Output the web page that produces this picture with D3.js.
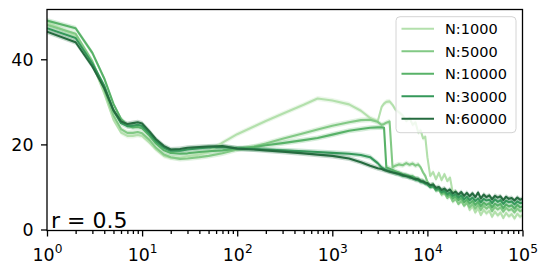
<!doctype html>
<html lang="en">
<head>
<meta charset="utf-8">
<title>r = 0.5</title>
<script src="https://d3js.org/d3.v7.min.js"></script>
<style>
  body { margin: 0; background: #fff; }
  svg { display: block; font-family: "DejaVu Sans", sans-serif; }
</style>
</head>
<body>
<div id="chart"></div>
<script>
// shared x grid (log spaced)
var xs = [1,2,3,4,5,6,7,8,9,10,12,14,17,20,25,30,40,50,70,100,150,200,300,500,700,
  1000,1500,2000,2500,3000,3300,3500,3700,4000,4300,4600,5000,5500,6000,6500,7000,7500,8000,8500,9000,9500,
  10000,10700,11500,12300,13200,14100,15100,16200,17300,18500,19800,21200,22700,24300,26000,27800,29800,
  31900,34100,36500,39100,41800,44800,47900,51300,54900,58700,62800,67200,71900,77000,82400,88200,94400,100000];

var labels = ["N:1000", "N:5000", "N:10000", "N:30000", "N:60000"];

var n1000 = [48.7,45.5,39.0,32.0,25.8,22.8,22.0,22.0,22.2,22.0,20.4,18.8,17.3,16.9,16.8,17.2,17.6,18.3,20.4,22.4,24.2,25.5,27.2,29.3,30.8,
  30.3,29.4,27.9,26.2,25.4,28.8,29.6,30.0,30.1,29.3,28.2,27.6,26.8,25.5,26.2,24.6,25.2,22.8,23.3,21.4,21.8,
  17.0,12.6,13.5,11.8,13.3,11.6,13.0,11.4,12.2,8.6,9.0,7.2,7.8,5.8,6.4,4.6,5.5,
  4.0,5.0,3.4,4.6,3.8,4.4,3.0,4.2,3.3,4.0,2.7,3.9,3.1,3.6,2.6,3.7,3.0,3.4];

var n5000 = [48.1,46.0,39.5,32.8,26.8,23.6,22.7,22.7,22.9,22.6,21.0,19.2,17.6,17.0,16.6,16.7,17.0,17.3,17.9,18.8,19.5,20.2,21.3,22.6,23.5,
  24.4,25.2,25.7,25.8,25.3,24.6,24.8,25.1,25.4,14.6,15.0,15.3,15.1,15.6,15.2,15.5,15.0,15.3,14.6,13.4,12.6,
  11.2,10.2,10.6,9.4,9.4,8.2,8.6,7.4,7.9,6.6,7.2,6.0,6.7,5.6,6.3,5.2,6.0,
  4.9,5.8,4.6,5.6,4.9,5.5,4.3,5.3,4.7,5.2,4.2,5.1,4.5,4.8,4.0,4.9,4.3,4.6];

var n10000 = [49.1,47.3,41.5,35.5,29.5,26.0,24.4,24.0,24.1,23.8,22.0,20.2,18.6,18.0,17.8,17.9,18.2,18.4,18.6,19.0,19.4,19.8,20.3,21.0,21.5,
  22.3,23.2,23.6,23.9,24.0,24.0,23.9,14.6,14.3,14.0,13.7,13.4,13.0,12.8,12.5,12.5,12.0,11.9,11.5,11.4,11.0,
  10.7,10.1,10.2,9.2,9.5,8.6,8.8,7.9,8.3,7.3,7.8,6.9,7.4,6.4,7.0,6.1,6.7,
  5.8,6.5,5.5,6.3,5.8,6.2,5.2,6.1,5.6,6.0,5.0,5.9,5.4,5.7,4.9,5.8,5.2,5.4];

var n30000 = [47.3,45.0,39.0,33.8,28.0,25.0,24.3,24.4,24.6,24.3,22.5,20.7,19.2,18.5,18.5,18.8,19.1,19.3,19.4,19.1,18.9,18.8,18.6,18.4,18.2,
  18.0,17.8,17.5,17.0,15.6,14.6,14.2,14.0,13.7,13.5,13.2,13.0,12.6,12.6,12.2,12.2,11.7,11.6,11.2,11.1,10.8,
  10.6,10.0,10.3,9.4,9.6,8.8,9.1,8.3,8.7,7.9,8.3,7.5,8.0,7.1,7.7,6.9,7.5,
  6.7,7.3,6.4,7.2,6.8,7.0,6.2,7.1,6.5,6.9,6.0,6.8,6.4,6.6,5.9,6.6,6.2,6.3];

var n60000 = [46.5,44.0,38.3,33.2,28.0,25.4,24.8,25.0,25.2,24.9,23.0,21.2,19.6,18.8,18.9,19.2,19.4,19.5,19.6,19.0,18.8,18.6,18.3,17.9,17.6,
  17.3,16.7,15.8,15.0,14.4,14.2,14.0,13.8,13.6,13.4,13.3,13.1,12.8,12.5,12.4,12.0,11.9,11.8,11.4,11.3,11.0,
  10.9,10.4,10.6,9.8,10.0,9.3,9.6,9.0,9.4,8.5,8.9,8.2,8.8,7.9,8.6,7.8,8.5,
  7.6,8.7,7.3,8.2,7.6,8.0,7.1,7.9,7.5,7.8,6.9,7.7,7.2,7.4,6.8,7.5,7.0,7.2];

var series = [n1000, n5000, n10000, n30000, n60000];
var colors = ["#b3e0ac", "#82c985", "#58b268", "#35985a", "#256b3f"];
var bandHalf = 0.6;   // faint spread band drawn round each line

var xTicks = [1, 10, 100, 1000, 10000, 100000];
var yTicks = [0, 20, 40];

var W = 548, H = 274;
var pL = 47, pR = 522.5, pT = 9.5, pB = 230.5;

var svg = d3.select("#chart").append("svg")
  .attr("width", W).attr("height", H);

var x = d3.scaleLog().domain([1, 100000]).range([pL, pR]);
var y = d3.scaleLinear().domain([-0.235, 51.7]).range([pB, pT]);

svg.append("clipPath").attr("id", "plot")
  .append("rect").attr("x", pL).attr("y", pT)
  .attr("width", pR - pL).attr("height", pB - pT);

var g = svg.append("g").attr("clip-path", "url(#plot)");

var line = d3.line().x(function(d, i) { return x(xs[i]); }).y(function(d) { return y(d); });
var band = d3.area()
  .x(function(d, i) { return x(xs[i]); })
  .y0(function(d) { return y(d - bandHalf); })
  .y1(function(d) { return y(d + bandHalf); });

series.forEach(function(s, k) {
  g.append("path").attr("d", band(s))
    .attr("fill", colors[k]).attr("opacity", 0.25);
});
series.forEach(function(s, k) {
  g.append("path").attr("d", line(s))
    .attr("fill", "none").attr("stroke", colors[k])
    .attr("stroke-width", 2.1).attr("stroke-linejoin", "round");
});

// minor ticks on the log axis
var minor = [];
for (var e = 0; e < 5; e++) for (var m = 2; m < 10; m++) minor.push(m * Math.pow(10, e));

var xMin = svg.append("g").attr("transform", "translate(0," + pB + ")")
  .call(d3.axisBottom(x).tickValues(minor).tickSize(3.5).tickFormat(""));
xMin.select(".domain").remove();

var xMaj = svg.append("g").attr("transform", "translate(0," + pB + ")")
  .call(d3.axisBottom(x).tickValues(xTicks).tickSize(6).tickSizeOuter(0));
xMaj.select(".domain").remove();
xMaj.selectAll("text").each(function(d) {
  var t = d3.select(this).text("").attr("y", 30.5).attr("dy", 0);
  t.append("tspan").text("10");
  t.append("tspan").text(Math.round(Math.log10(d))).attr("font-size", 12.2).attr("dy", -7.7);
});

var yAxis = svg.append("g").attr("transform", "translate(" + pL + ",0)")
  .call(d3.axisLeft(y).tickValues(yTicks).tickSize(6).tickPadding(7.5).tickSizeOuter(0));
yAxis.select(".domain").remove();
yAxis.selectAll("text").attr("dy", "0.36em");

[xMin, xMaj, yAxis].forEach(function(a) {
  a.attr("font-family", null).attr("font-size", 17.4);
  a.selectAll("text").attr("fill", "#000");
  a.selectAll(".tick line").attr("stroke", "#000").attr("stroke-width", 1.3);
});

// frame
svg.append("rect").attr("x", pL).attr("y", pT)
  .attr("width", pR - pL).attr("height", pB - pT)
  .attr("fill", "none").attr("stroke", "#000").attr("stroke-width", 1.3);

svg.append("text").attr("x", 51).attr("y", 228.3)
  .attr("font-size", 22).attr("fill", "#000").text("r = 0.5");

// legend
var lg = svg.append("g");
lg.append("rect").attr("x", 396).attr("y", 16.7).attr("width", 120).attr("height", 116)
  .attr("rx", 4).attr("fill", "#fff").attr("fill-opacity", 0.8)
  .attr("stroke", "#d4d4d4").attr("stroke-width", 1);
labels.forEach(function(lab, k) {
  var yy = 28.8 + k * 22.5;
  lg.append("line").attr("x1", 401.5).attr("x2", 434).attr("y1", yy).attr("y2", yy)
    .attr("stroke", colors[k]).attr("stroke-width", 2.1);
  lg.append("text").attr("x", 445).attr("y", yy + 5.3)
    .attr("font-size", 14.5).attr("fill", "#000").text(lab);
});
</script>
</body>
</html>
